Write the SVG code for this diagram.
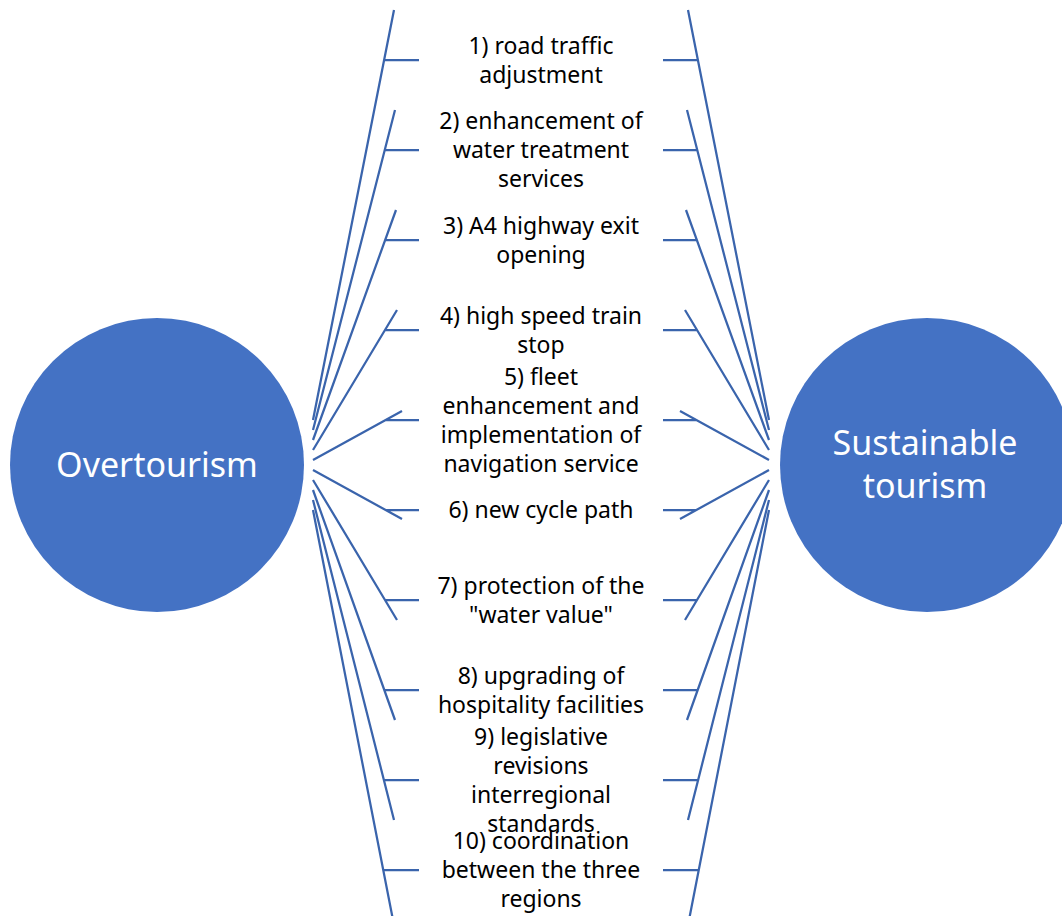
<svg xmlns="http://www.w3.org/2000/svg" width="1062" height="916" viewBox="0 0 1062 916">
  <style>
    .hub { fill: #4472C4; }
    .hub-text { fill: #FFFFFF; font-family: "Noto Sans", "Open Sans", sans-serif; font-size: 34px; text-anchor: middle; }
    .label { fill: #000000; font-family: "Noto Sans", "Open Sans", sans-serif; font-size: 23px; text-anchor: middle; }
    .spoke { stroke: #3A64AC; stroke-width: 2.25; fill: none; stroke-linecap: butt; }
  </style>
  <rect width="1062" height="916" fill="#FFFFFF"/>

  <!-- connectors: spokes fanning out of each hub, each with a horizontal tick toward its label -->
  <g id="connectors" class="spoke">
    <!-- left fan -->
    <path d="M313,420 L394,10 M384,60 H419"/>
    <path d="M313,430 L395,110 M385,150 H419"/>
    <path d="M313,440 L396,210 M385,240 H419"/>
    <path d="M313,450 L397,310 M385,330 H419"/>
    <path d="M313,460 L402,411 M386,420 H419"/>
    <path d="M313,470 L402,519 M386,510 H419"/>
    <path d="M313,480 L397,620 M385,600 H419"/>
    <path d="M313,490 L395,720 M384,690 H419"/>
    <path d="M313,500 L394,820 M384,780 H419"/>
    <path d="M313,510 L393,920 M383,870 H419"/>
    <!-- right fan -->
    <path d="M769,420 L688,10 M698,60 H663"/>
    <path d="M769,430 L687,110 M697,150 H663"/>
    <path d="M769,440 L686,210 M697,240 H663"/>
    <path d="M769,450 L685,310 M697,330 H663"/>
    <path d="M769,460 L680,411 M696,420 H663"/>
    <path d="M769,470 L680,519 M696,510 H663"/>
    <path d="M769,480 L685,620 M697,600 H663"/>
    <path d="M769,490 L687,720 M698,690 H663"/>
    <path d="M769,500 L688,820 M698,780 H663"/>
    <path d="M769,510 L689,920 M699,870 H663"/>
  </g>

  <g id="overtourism">
    <circle class="hub" cx="157" cy="465" r="147"/>
    <text class="hub-text" x="157" y="477">Overtourism</text>
  </g>

  <g id="sustainable-tourism">
    <circle class="hub" cx="927" cy="465" r="147"/>
    <text class="hub-text" x="925" y="455">Sustainable</text>
    <text class="hub-text" x="925" y="498">tourism</text>
  </g>

  <g id="measure-1">
    <text class="label" x="541" y="53.5">1) road traffic</text>
    <text class="label" x="541" y="82.5">adjustment</text>
  </g>
  <g id="measure-2">
    <text class="label" x="541" y="129">2) enhancement of</text>
    <text class="label" x="541" y="158">water treatment</text>
    <text class="label" x="541" y="187">services</text>
  </g>
  <g id="measure-3">
    <text class="label" x="541" y="233.5">3) A4 highway exit</text>
    <text class="label" x="541" y="262.5">opening</text>
  </g>
  <g id="measure-4">
    <text class="label" x="541" y="323.5">4) high speed train</text>
    <text class="label" x="541" y="352.5">stop</text>
  </g>
  <g id="measure-5">
    <text class="label" x="541" y="384.5">5) fleet</text>
    <text class="label" x="541" y="413.5">enhancement and</text>
    <text class="label" x="541" y="442.5">implementation of</text>
    <text class="label" x="541" y="471.5">navigation service</text>
  </g>
  <g id="measure-6">
    <text class="label" x="541" y="518">6) new cycle path</text>
  </g>
  <g id="measure-7">
    <text class="label" x="541" y="593.5">7) protection of the</text>
    <text class="label" x="541" y="622.5">"water value"</text>
  </g>
  <g id="measure-8">
    <text class="label" x="541" y="683.5">8) upgrading of</text>
    <text class="label" x="541" y="712.5">hospitality facilities</text>
  </g>
  <g id="measure-9">
    <text class="label" x="541" y="744.5">9) legislative</text>
    <text class="label" x="541" y="773.5">revisions</text>
    <text class="label" x="541" y="802.5">interregional</text>
    <text class="label" x="541" y="831.5">standards</text>
  </g>
  <g id="measure-10">
    <text class="label" x="541" y="849">10) coordination</text>
    <text class="label" x="541" y="878">between the three</text>
    <text class="label" x="541" y="907">regions</text>
  </g>
</svg>
